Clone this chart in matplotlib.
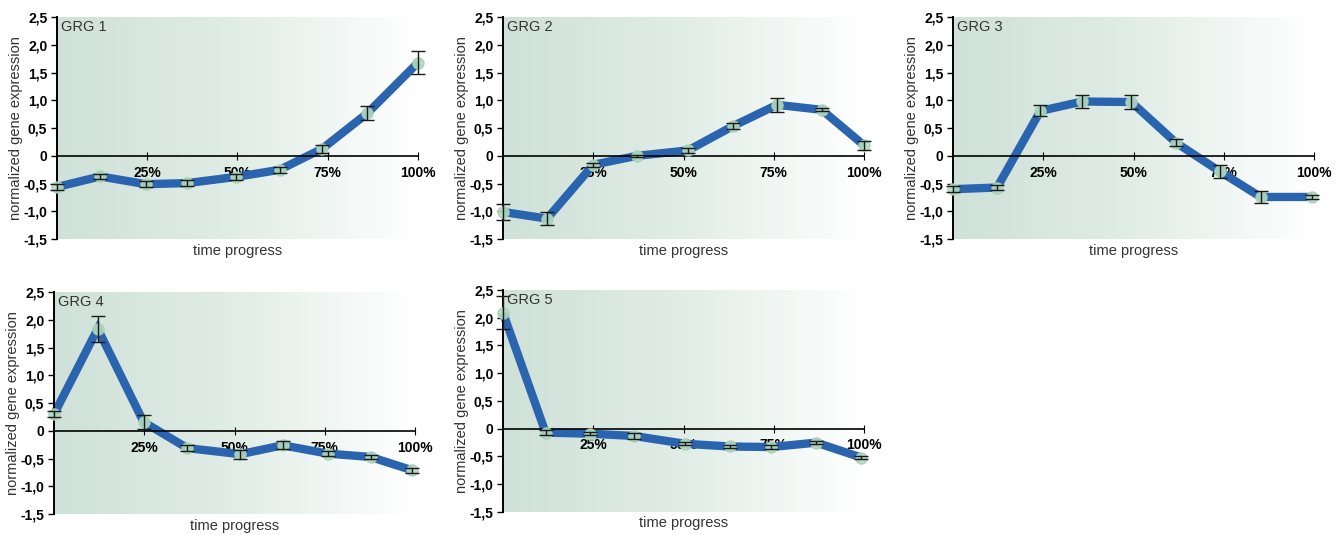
# GRG expression profiles over time progress

import numpy as np
import matplotlib
matplotlib.use("Agg")
import matplotlib.pyplot as plt
from matplotlib.colors import LinearSegmentedColormap

plt.rcParams["font.family"] = ["Liberation Sans", "DejaVu Sans"]

panel_names = ["GRG 1", "GRG 2", "GRG 3", "GRG 4", "GRG 5"]

# x positions (% of time progress)
x_grg1 = [0, 12.0, 24.6, 36.1, 49.5, 61.7, 73.5, 86.0, 100]
x_grg2 = [0, 12.2, 25.0, 37.0, 51.3, 63.8, 75.9, 88.3, 100]
x_grg3 = [0, 12.2, 24.2, 35.8, 49.4, 61.7, 73.9, 85.2, 99.5]
x_grg4 = [0, 12.1, 24.8, 36.9, 51.6, 63.3, 75.9, 87.7, 99.2]
x_grg5 = [0, 11.8, 24.2, 36.3, 50.3, 62.8, 74.3, 86.8, 99.3]

y_grg1 = [-0.56, -0.37, -0.51, -0.49, -0.38, -0.25, 0.13, 0.77, 1.68]
y_grg2 = [-1.01, -1.13, -0.16, 0.0, 0.10, 0.54, 0.92, 0.83, 0.19]
y_grg3 = [-0.60, -0.57, 0.81, 0.98, 0.97, 0.24, -0.28, -0.74, -0.74]
y_grg4 = [0.30, 1.84, 0.16, -0.31, -0.42, -0.26, -0.41, -0.47, -0.71]
y_grg5 = [2.09, -0.07, -0.09, -0.13, -0.27, -0.32, -0.33, -0.25, -0.52]

err_grg1 = [0.06, 0.05, 0.05, 0.05, 0.05, 0.05, 0.07, 0.12, 0.21]
err_grg2 = [0.14, 0.12, 0.04, 0.02, 0.05, 0.05, 0.13, 0.03, 0.08]
err_grg3 = [0.05, 0.05, 0.10, 0.11, 0.13, 0.06, 0.11, 0.11, 0.04]
err_grg4 = [0.05, 0.23, 0.12, 0.05, 0.08, 0.07, 0.04, 0.03, 0.05]
err_grg5 = [0.30, 0.05, 0.03, 0.05, 0.03, 0.02, 0.03, 0.03, 0.02]

xs = [x_grg1, x_grg2, x_grg3, x_grg4, x_grg5]
ys = [y_grg1, y_grg2, y_grg3, y_grg4, y_grg5]
errs = [err_grg1, err_grg2, err_grg3, err_grg4, err_grg5]

ytick_vals = [-1.5, -1.0, -0.5, 0, 0.5, 1.0, 1.5, 2.0, 2.5]
ytick_labels = ["-1,5", "-1,0", "-0,5", "0", "0,5", "1,0", "1,5", "2,0", "2,5"]
xtick_vals = [25, 50, 75, 100]
xtick_labels = ["25%", "50%", "75%", "100%"]

# axes rectangles [left, bottom, width, height] in figure fraction
rects = [
    [0.0425, 0.553, 0.2692, 0.415],
    [0.3751, 0.553, 0.2692, 0.415],
    [0.7107, 0.553, 0.2692, 0.415],
    [0.0403, 0.039, 0.2692, 0.415],
    [0.3751, 0.043, 0.2692, 0.415],
]

bg_cmap = LinearSegmentedColormap.from_list(
    "bg", ["#cfe1d8", "#e1ede7", "#ffffff"])
grad = np.linspace(0, 1, 256).reshape(1, -1)

fig = plt.figure(figsize=(13.41, 5.35), dpi=100)

for i in range(5):
    ax = fig.add_axes(rects[i])
    ax.set_xlim(0, 100)
    ax.set_ylim(-1.5, 2.5)
    ax.imshow(grad, cmap=bg_cmap, extent=[0, 100, -1.5, 2.5],
              aspect="auto", zorder=0, interpolation="bilinear")

    ax.plot(xs[i], ys[i], color="#2b64ae", lw=6, solid_capstyle="butt",
            solid_joinstyle="miter", zorder=2, clip_on=False)
    ax.plot(xs[i], ys[i], "o", ms=8, mfc="#b3d9bf", mec="#a8d0b5",
            alpha=0.9, zorder=3, clip_on=False)
    ax.errorbar(xs[i], ys[i], yerr=errs[i], fmt="none", ecolor="#1a1a1a",
                elinewidth=1.0, capsize=5, capthick=1.0, zorder=4,
                clip_on=False)

    for s in ["top", "right"]:
        ax.spines[s].set_visible(False)
    ax.spines["bottom"].set_position(("data", 0))
    ax.spines["bottom"].set_linewidth(1.2)
    ax.spines["left"].set_linewidth(1.4)

    ax.set_yticks(ytick_vals)
    ax.set_yticklabels(ytick_labels, fontsize=10, fontweight="bold")
    ax.set_xticks(xtick_vals)
    ax.set_xticklabels(xtick_labels, fontsize=10, fontweight="bold")
    ax.tick_params(axis="x", direction="inout", length=6, width=0.8, pad=4)
    ax.tick_params(axis="y", direction="out", length=4, width=1.0, pad=3)

    ax.set_ylabel("normalized gene expression", fontsize=10.5,
                  color="#333333", labelpad=0)
    ax.text(0.5, -0.02, "time progress", transform=ax.transAxes,
            ha="center", va="top", fontsize=10.5, color="#333333")
    ax.text(0.012, 0.985, panel_names[i], transform=ax.transAxes,
            ha="left", va="top", fontsize=10.5, color="#333333", zorder=5)

fig.savefig("out.png", dpi=100)
